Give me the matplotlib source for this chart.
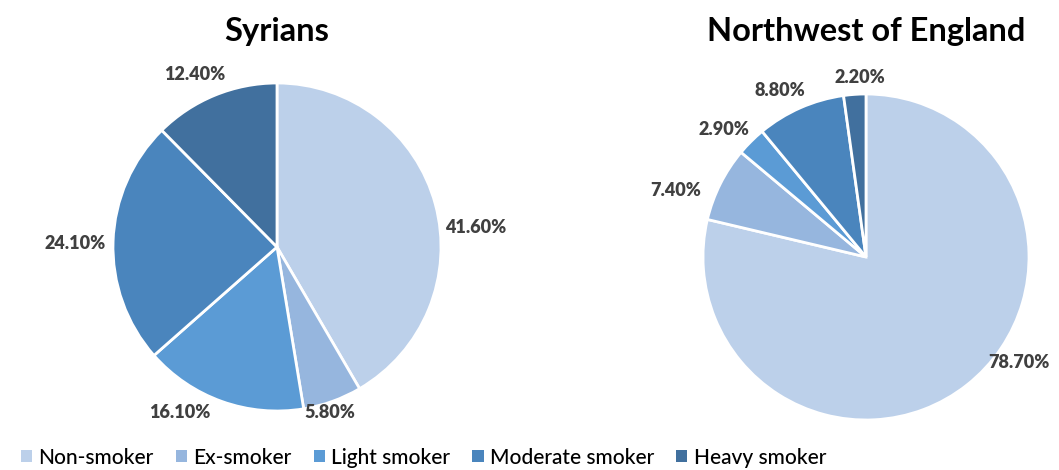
import matplotlib.pyplot as plt
from matplotlib.patches import Patch

plt.rcParams['font.family'] = ['Lato', 'DejaVu Sans']

# categories and values (percent)
categories = ["Non-smoker", "Ex-smoker", "Light smoker", "Moderate smoker", "Heavy smoker"]
syrians = [41.6, 5.8, 16.1, 24.1, 12.4]
northwest = [78.7, 7.4, 2.9, 8.8, 2.2]
titles = ["Syrians", "Northwest of England"]

colors = ["#BCD0EA", "#96B6DE", "#5B9BD5", "#4A85BD", "#41709E"]

# label centres in pie-radius units (layout only)
label_pos = [
    [(1.21, 0.12), (0.32, -1.01), (-0.59, -1.01), (-1.23, 0.02), (-0.50, 1.05)],
    [(0.94, -0.65), (-1.17, 0.41), (-0.87, 0.78), (-0.53, 1.02), (-0.04, 1.10)],
]

W, H = 1059, 470
fig = plt.figure(figsize=(W / 100, H / 100), dpi=100)

# pie centres and radii in pixels
geo = [(277, 247, 164), (866, 257, 163)]

for i, vals in enumerate([syrians, northwest]):
    cx, cy, r = geo[i]
    ax = fig.add_axes([(cx - r) / W, (H - cy - r) / H, 2 * r / W, 2 * r / H])
    ax.pie(vals, colors=colors, startangle=90, counterclock=False, radius=1,
           wedgeprops=dict(edgecolor="white", linewidth=2))
    ax.set_xlim(-1, 1)
    ax.set_ylim(-1, 1)
    ax.set_aspect("auto")
    ax.axis("off")
    for v, (lx, ly) in zip(vals, label_pos[i]):
        ax.text(lx, ly, f"{v:.2f}%", ha="center", va="center", fontsize=13,
                fontweight="heavy", color="#404040", clip_on=False)
    fig.text(cx / W, 1 - 31 / H, titles[i], ha="center", va="center",
             fontsize=23.5, fontweight="bold", color="#000000")

handles = [Patch(facecolor=c, edgecolor="none") for c in colors]
fig.legend(handles, categories, loc="lower left", bbox_to_anchor=(0.002, -0.035),
           ncol=5, frameon=False, handlelength=0.55, handleheight=0.5,
           handletextpad=0.3, columnspacing=1.05, labelcolor="#000000",
           prop=dict(size=15, weight="medium"))

fig.savefig("out.png", dpi=100, facecolor="white")
